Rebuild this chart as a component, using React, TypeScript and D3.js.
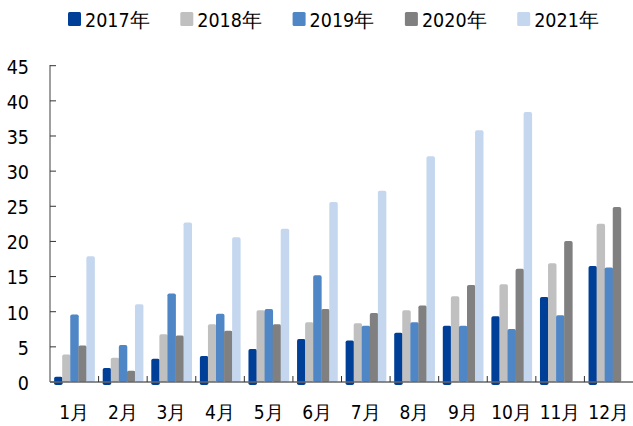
import React from "react";
import * as d3 from "d3";

const months = ["1月", "2月", "3月", "4月", "5月", "6月", "7月", "8月", "9月", "10月", "11月", "12月"];
const seriesNames = ["2017年", "2018年", "2019年", "2020年", "2021年"];
const v2017 = [0.75, 2.0, 3.3, 3.7, 4.7, 6.1, 5.9, 7.0, 8.0, 9.35, 12.1, 16.5];
const v2018 = [3.9, 3.45, 6.8, 8.2, 10.2, 8.5, 8.35, 10.2, 12.2, 13.9, 16.9, 22.5];
const v2019 = [9.6, 5.25, 12.6, 9.7, 10.4, 15.2, 8.0, 8.5, 8.0, 7.55, 9.5, 16.3];
const v2020 = [5.2, 1.6, 6.6, 7.3, 8.2, 10.4, 9.8, 10.9, 13.8, 16.1, 20.05, 24.9];
const v2021 = [17.9, 11.05, 22.7, 20.6, 21.8, 25.6, 27.2, 32.1, 35.8, 38.4, null, null];
const yTicks = [0, 5, 10, 15, 20, 25, 30, 35, 40, 45];

const colors = ["#003f98", "#c0c0c0", "#4f86c6", "#808080", "#c5d7ee"];
const allSeries = [v2017, v2018, v2019, v2020, v2021];

const W = 633;
const H = 426;
const font = "'DejaVu Sans Condensed', 'DejaVu Sans', sans-serif";

export default function App() {
  const x0 = d3.scaleBand().domain(months).range([50, 633]).paddingInner(0.17).paddingOuter(0.085);
  const x1 = d3.scaleBand().domain(seriesNames).range([0, x0.bandwidth()]);
  const y = d3.scaleLinear().domain([0, 45]).range([382, 65.7]);
  const step = x0.step();

  return (
    <svg width={W} height={H} style={{ position: "absolute", left: 0, top: 0, background: "#fff" }}>
      {/* legend */}
      {seriesNames.map((s, i) => (
        <g key={s} transform={`translate(${68 + i * 112.3},0)`}>
          <rect x={0} y={12} width={13} height={14} rx={1.5} fill={colors[i]} />
          <text x={17} y={27} fontSize={19.5} fontFamily={font} fill="#000">{s}</text>
        </g>
      ))}

      {/* bars */}
      {months.map((m, mi) => (
        <g key={m} transform={`translate(${x0(m)},0)`}>
          {allSeries.map((vals, si) => {
            const v = vals[mi];
            if (v == null) return null;
            const top = y(v);
            const bottom = y(0) + (si === 0 ? 3 : 0);
            return (
              <rect key={si} x={x1(seriesNames[si])} y={top} width={x1.bandwidth() + 0.4}
                height={bottom - top} rx={1.8} fill={colors[si]} />
            );
          })}
        </g>
      ))}

      {/* y axis */}
      <line x1={50} x2={50} y1={65} y2={382} stroke="#7f7f7f" strokeWidth={1.5} />
      {yTicks.map(t => (
        <g key={t}>
          <line x1={50} x2={56} y1={y(t)} y2={y(t)} stroke="#333" strokeWidth={1} />
          <text x={29} y={y(t)} dy="0.4em" textAnchor="end" fontSize={19.5} fontFamily={font} fill="#000">{t}</text>
        </g>
      ))}

      {/* x axis */}
      <line x1={50} x2={633} y1={382} y2={382} stroke="#666" strokeWidth={1.5} />
      {months.slice(1).map(m => (
        <line key={m} x1={x0(m)! - (step - x0.bandwidth()) / 2} x2={x0(m)! - (step - x0.bandwidth()) / 2}
          y1={376} y2={382} stroke="#333" strokeWidth={1} />
      ))}
      {months.map(m => (
        <text key={m} x={x0(m)! + x0.bandwidth() / 2} y={419} textAnchor="middle" fontSize={19} fontFamily={font} fill="#000">{m}</text>
      ))}
    </svg>
  );
}
